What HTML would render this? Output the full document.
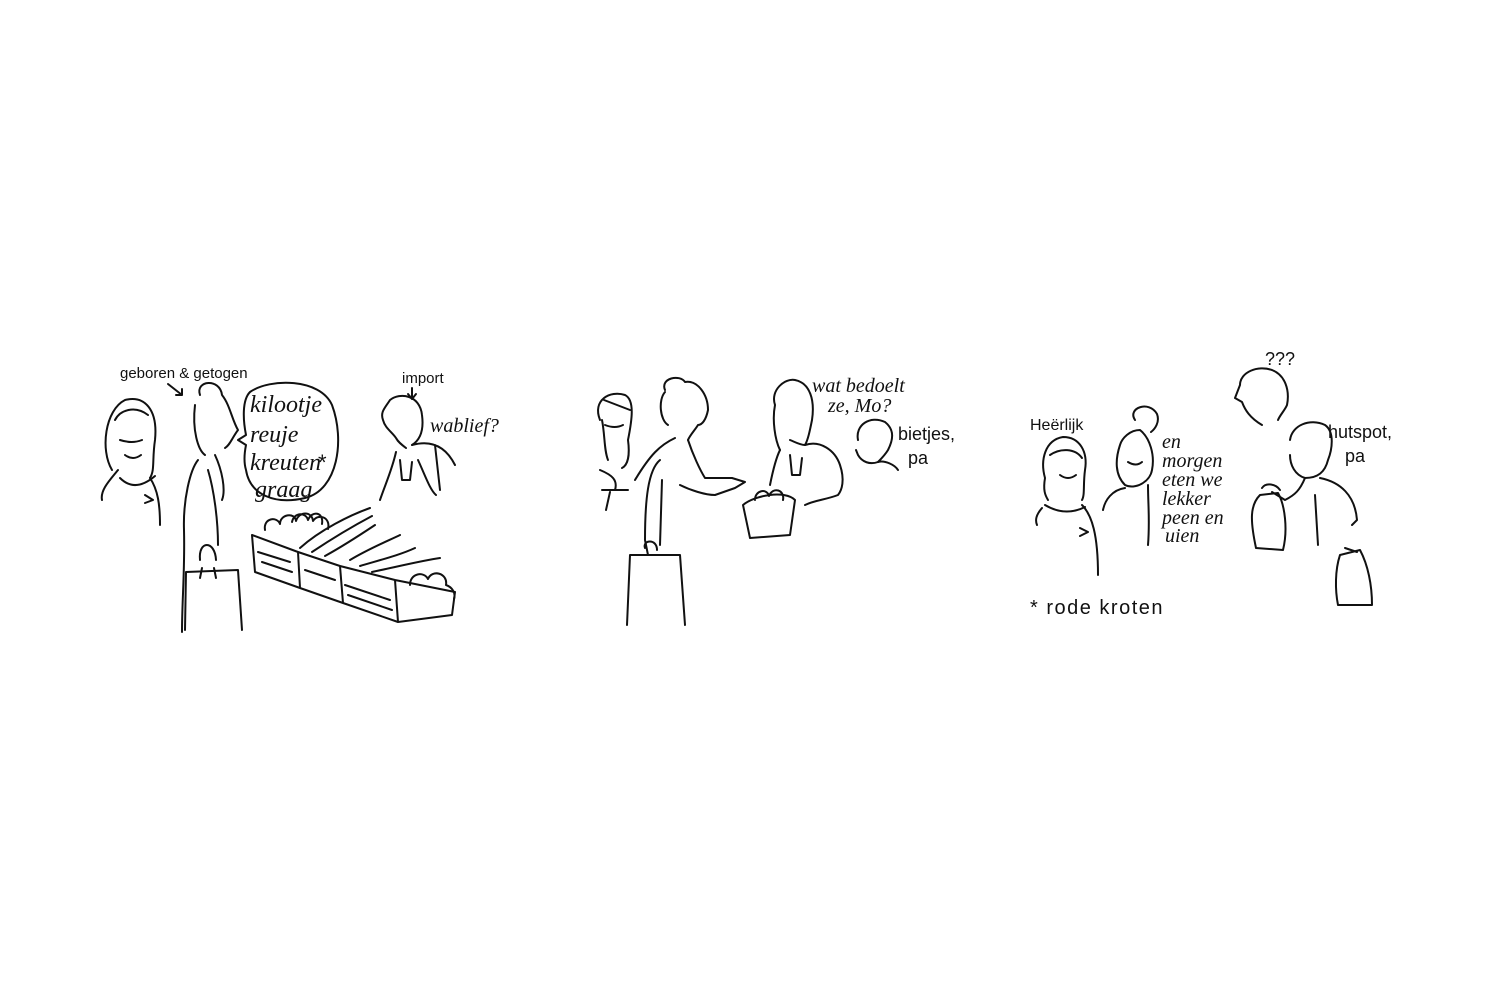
<!DOCTYPE html>
<html><head><meta charset="utf-8"><style>
html,body{margin:0;padding:0;background:#fff;}
svg{display:block}
text{font-family:"Liberation Sans",sans-serif;fill:#111}
.s{fill:none;stroke:#111;stroke-width:2;stroke-linecap:round;stroke-linejoin:round}
.h{font-family:"Liberation Serif",serif;font-style:italic}
</style></head><body>
<svg width="1500" height="1000" viewBox="0 0 1500 1000">
<g class="s">
<!-- PANEL 1 -->
<path d="M112,470 C100,450 105,410 125,400 C145,395 158,410 155,440 C152,460 155,470 150,478"/>
<path d="M115,420 C120,410 135,405 148,415 M120,440 q12,4 22,0 M125,455 q8,6 16,0"/>
<path d="M118,470 C110,480 100,490 102,500 M150,478 C158,490 160,505 160,525 M120,478 q15,15 35,-2 M145,495 l8,5 -8,3"/>
<path d="M200,395 C195,380 220,378 222,395 M195,405 C192,430 198,450 205,455 M222,395 C230,405 232,420 238,430 C232,438 230,445 225,448"/>
<path d="M198,460 C190,470 183,500 184,530 C185,570 182,600 182,632 M215,455 C222,470 226,490 222,500 M208,470 C214,490 218,520 218,545"/>
<path d="M200,560 C198,540 215,540 216,560 M202,568 L200,578 M214,568 L216,578"/>
<path d="M186,572 L185,630 M186,572 L238,570 L242,630"/>
<path d="M250,392 C270,378 320,378 332,405 C345,440 338,490 305,498 C275,505 250,495 246,470 C243,460 245,450 246,445 L238,440 L246,435 C243,420 242,400 250,392"/>
<path d="M390,400 C400,392 420,395 422,415 C424,430 420,440 412,445 M390,400 C385,408 380,412 383,420 C385,428 392,432 396,438 C398,442 402,445 406,448"/>
<path d="M412,445 C430,440 445,445 455,465 M396,452 C392,470 385,485 380,500 M400,460 L402,480 L410,480 L412,462 M435,445 L440,490 M418,460 C425,475 430,490 436,495"/>
<path d="M252,535 L298,552 L300,588 L255,572 Z M298,552 L340,566 L343,603 L300,588 M340,566 L395,580 L398,622 L343,603 M395,580 L455,592 L452,615 L398,622"/>
<path d="M258,552 L290,562 M262,562 L292,572 M305,570 L335,580 M345,585 L390,600 M348,595 L392,610"/>
<path d="M265,530 c-2,-12 12,-14 15,-6 c0,-10 15,-12 16,-3 c3,-10 16,-10 17,0 c5,-8 18,-4 15,8 M292,522 c2,-10 14,-10 16,-2 c4,-10 16,-8 14,4"/>
<path d="M300,548 C320,530 350,515 370,508 M312,552 C330,540 355,525 372,516 M325,556 C345,545 360,535 375,525 M350,560 C370,548 390,540 400,535 M360,566 C380,560 400,555 415,548 M372,572 C400,566 425,560 440,558 M410,585 c0,-12 14,-14 18,-6 c4,-10 20,-6 18,6 c6,2 10,8 8,14"/>
<!-- PANEL 2 -->
<path d="M600,420 C592,400 610,390 625,395 C635,400 632,420 628,440 C630,455 628,465 622,468 M602,420 C605,435 604,450 608,460 M604,400 L630,410 M605,425 q10,4 18,0"/>
<path d="M600,470 C612,475 618,480 615,490 M602,490 L628,490 M610,492 L606,510"/>
<path d="M665,390 C660,378 680,374 685,382 C698,380 708,395 708,410 C706,420 702,425 698,425 C695,430 690,435 688,440 M665,392 C658,400 660,420 668,425"/>
<path d="M675,438 C660,445 650,455 635,480 M688,440 C693,455 700,470 705,478 L732,478 L745,482 L735,488 L715,495 C705,495 690,490 680,485"/>
<path d="M660,460 C648,470 645,500 645,540 L648,555 M662,480 L660,545"/>
<path d="M630,555 L627,625 M630,555 L680,555 L685,625 M645,548 c-3,-8 12,-10 12,2"/>
<path d="M775,405 C770,390 785,378 795,380 C810,383 815,400 812,420 C810,430 808,440 805,445 C800,445 795,442 790,440 M775,405 C772,420 775,440 780,450"/>
<path d="M780,450 C775,460 772,475 770,485 M805,445 C820,440 835,450 840,465 C845,480 842,490 838,495 C825,500 815,500 805,505 M790,455 L792,475 L800,475 L802,458"/>
<path d="M743,505 C755,495 785,490 795,500 L790,535 L750,538 Z M755,500 c0,-10 12,-12 14,-4 c4,-10 16,-6 14,4"/>
<path d="M858,440 C855,425 870,415 885,422 C895,430 893,440 888,450 C885,455 880,460 878,462 C870,465 862,462 858,455 L856,450"/>
<path d="M878,462 C885,460 895,465 898,470"/>
<!-- PANEL 3 -->
<path d="M1045,478 C1040,460 1045,440 1063,437 C1080,437 1088,452 1085,470 C1083,485 1085,495 1082,500 M1045,478 C1043,490 1045,495 1048,500 M1050,455 C1060,448 1075,448 1082,458 M1060,475 q8,6 16,0"/>
<path d="M1042,508 C1036,515 1035,520 1037,525 M1082,505 C1092,515 1098,535 1098,575 M1045,505 q20,12 40,2 M1080,528 l8,4 -8,4"/>
<path d="M1135,420 c-8,-12 14,-20 22,-6 c3,8 -2,15 -6,18 M1120,445 C1115,460 1115,475 1125,485 C1135,490 1150,482 1152,470 C1155,455 1150,438 1140,430 C1130,430 1122,438 1120,445 M1128,462 q8,5 14,0"/>
<path d="M1125,488 C1112,490 1105,500 1103,510 M1148,485 C1148,505 1150,520 1148,545"/>
<path d="M1240,385 C1240,372 1258,365 1272,370 C1285,375 1290,390 1287,405 C1285,410 1280,415 1278,420 M1240,385 L1235,398 L1242,402 C1245,410 1250,418 1262,425"/>
<path d="M1290,440 C1292,425 1310,418 1325,425 C1335,432 1332,450 1328,460 C1325,472 1318,478 1305,478 C1295,475 1290,465 1290,455"/>
<path d="M1305,478 C1300,490 1295,495 1285,500 L1272,492 M1320,478 C1340,482 1355,495 1357,520 L1352,525 M1315,495 L1318,545"/>
<path d="M1260,495 C1250,505 1250,520 1256,548 L1283,550 C1288,530 1285,505 1278,493 Z M1262,488 c4,-6 14,-4 18,2"/>
<path d="M1340,555 C1335,570 1335,590 1338,605 L1372,605 C1372,585 1368,565 1360,550 Z M1345,548 l12,4"/>
</g>
<text x="318" y="470" font-size="22">*</text>
<text x="120" y="378" font-size="15">geboren &amp; getogen</text>
<path class="s" d="M168,384 L182,395 M176,395 L182,395 L182,389"/>
<g font-size="24">
<text x="250" y="412" class="h">kilootje</text>
<text x="250" y="442" class="h">reuje</text>
<text x="250" y="470" class="h">kreuten</text>
<text x="255" y="497" class="h">graag</text>
</g>
<text x="402" y="383" font-size="15">import</text>
<path class="s" d="M412,388 L412,398 M408,394 L412,399 L416,394"/>
<text x="430" y="432" font-size="20" class="h">wablief?</text>
<text x="812" y="392" font-size="20" class="h">wat bedoelt</text>
<text x="828" y="412" font-size="20" class="h">ze, Mo?</text>
<text x="898" y="440" font-size="18">bietjes,</text>
<text x="908" y="464" font-size="18">pa</text>
<text x="1265" y="365" font-size="18">???</text>
<text x="1030" y="430" font-size="16">Heërlijk</text>
<g font-size="20">
<text x="1162" y="448" class="h">en</text>
<text x="1162" y="467" class="h">morgen</text>
<text x="1162" y="486" class="h">eten we</text>
<text x="1162" y="505" class="h">lekker</text>
<text x="1162" y="524" class="h">peen en</text>
<text x="1165" y="542" class="h">uien</text>
</g>
<text x="1328" y="438" font-size="18">hutspot,</text>
<text x="1345" y="462" font-size="18">pa</text>
<text x="1030" y="614" font-size="20" letter-spacing="1.5">* rode kroten</text>
</svg>
</body></html>
